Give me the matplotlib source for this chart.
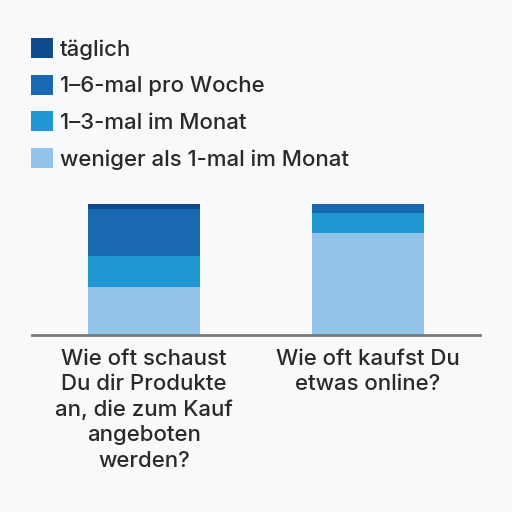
import matplotlib
matplotlib.use("Agg")
import matplotlib.pyplot as plt
import numpy as np

# data (percent of respondents)
questions = ["Wie oft schaust\nDu dir Produkte\nan, die zum Kauf\nangeboten\nwerden?",
             "Wie oft kaufst Du\netwas online?"]
series_names = ["täglich", "1–6-mal pro Woche", "1–3-mal im Monat",
                "weniger als 1-mal im Monat"]
taeglich = [4, 0]
pro_woche = [36, 7]
im_monat = [23, 15]
weniger = [37, 78]

colors = ["#0f4a8c", "#1868b2", "#1f97d3", "#92c4e9"]
bg = "#f8f9fb"
txt = "#2a2a2a"

plt.rcParams["font.family"] = ["Inter", "DejaVu Sans"]
plt.rcParams["font.weight"] = "medium"

fig = plt.figure(figsize=(5.12, 5.12), dpi=100, facecolor=bg)
ax = fig.add_axes([32/512, 1-335/512, 448/512, 131/512])
ax.set_facecolor(bg)

x = np.arange(len(questions))
stack = [weniger, im_monat, pro_woche, taeglich]
stack_colors = colors[::-1]
stack_names = series_names[::-1]
bottom = np.zeros(len(questions))
handles = {}
for vals, c, name in zip(stack, stack_colors, stack_names):
    b = ax.bar(x, vals, width=0.5, bottom=bottom, color=c, linewidth=0)
    handles[name] = b
    bottom += np.array(vals)

ax.set_xlim(-0.5, 1.5)
ax.set_ylim(0, 100)
ax.set_yticks([])
for s in ["top", "right", "left"]:
    ax.spines[s].set_visible(False)
ax.spines["bottom"].set_color("#7a7a7a")
ax.spines["bottom"].set_linewidth(2)
ax.set_xticks(x)
ax.set_xticklabels(questions, fontsize=16, color=txt, linespacing=1.33, va="top")
ax.tick_params(axis="x", length=0, pad=10)

leg = ax.legend([handles[n] for n in series_names], series_names,
                loc="upper left", bbox_to_anchor=(31/512, 1-38/512),
                bbox_transform=fig.transFigure, frameon=False,
                fontsize=16, handlelength=1.0, handleheight=1.0,
                handletextpad=0.3, labelspacing=0.68, borderpad=0,
                borderaxespad=0)
for t in leg.get_texts():
    t.set_color(txt)

fig.savefig("out.png", dpi=100, facecolor=bg)
